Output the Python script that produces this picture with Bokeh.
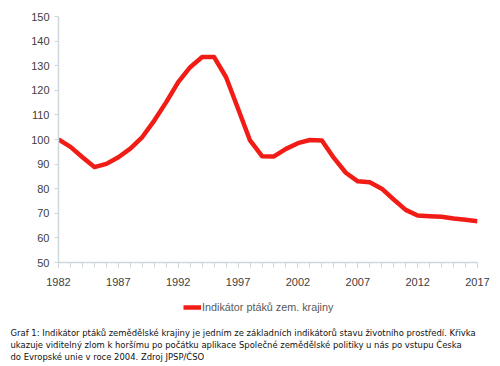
from bokeh.plotting import figure
from bokeh.layouts import column
from bokeh.models import (ColumnDataSource, Range1d, FixedTicker, Legend, LegendItem)
from bokeh.core.properties import value
from bokeh.embed import file_html
from bokeh.resources import INLINE

years = list(range(1982, 2018))
values = [100.0, 97.0, 92.8, 88.8, 90.1, 92.8, 96.3, 101.0, 107.7, 115.2,
          123.3, 129.4, 133.5, 133.5, 125.3, 112.5, 99.6, 93.2, 93.1, 96.2,
          98.5, 99.8, 99.6, 92.5, 86.5, 83.0, 82.6, 80.0, 75.6, 71.4,
          69.1, 68.8, 68.6, 67.9, 67.4, 66.8]
x_tick_labels = [1982, 1987, 1992, 1997, 2002, 2007, 2012, 2017]
y_ticks = [50, 60, 70, 80, 90, 100, 110, 120, 130, 140, 150]
series_name = "Indikátor ptáků zem. krajiny"
caption_lines = [
    "Graf 1: Indikátor ptáků zemědělské krajiny je jedním ze základních indikátorů stavu životního prostředí. Křivka",
    "ukazuje viditelný zlom k horšímu po počátku aplikace Společné zemědělské politiky u nás po vstupu Česka",
    "do Evropské unie v roce 2004. Zdroj JPSP/ČSO",
]

LINE_COLOR = "#f21c16"
axis_col = "#cdd6da"
lab_col = "#404040"
font = "Liberation Sans"

src = ColumnDataSource(dict(x=years, y=values))

p = figure(width=500, height=290, output_backend="svg", toolbar_location=None,
           x_range=Range1d(1982, 2017), y_range=Range1d(50, 150),
           min_border_left=58, min_border_right=23, min_border_top=16, min_border_bottom=28)
p.frame_align = False
p.outline_line_color = None
p.xgrid.grid_line_color = None
p.ygrid.grid_line_color = None

p.line("x", "y", source=src, line_color=LINE_COLOR, line_width=4.5, line_join="round")

p.xaxis.ticker = FixedTicker(ticks=x_tick_labels, minor_ticks=years)
p.yaxis.ticker = FixedTicker(ticks=y_ticks, minor_ticks=[])
for ax in (p.xaxis[0], p.yaxis[0]):
    ax.axis_line_color = axis_col
    ax.axis_line_width = 1.5
    ax.major_tick_line_color = axis_col
    ax.minor_tick_line_color = axis_col
    ax.major_tick_in = 0
    ax.minor_tick_in = 0
    ax.major_label_text_font = font
    ax.major_label_text_font_size = "11px"
    ax.major_label_text_color = lab_col
p.xaxis.major_tick_out = 5
p.xaxis.minor_tick_out = 5
p.xaxis.major_label_standoff = 10
p.yaxis.major_tick_out = 4
p.yaxis.minor_tick_out = 0
p.yaxis.major_label_standoff = 5

# Second panel: legend and caption
H2 = 76
q = figure(width=500, height=H2, output_backend="svg", toolbar_location=None,
           x_range=Range1d(0, 500), y_range=Range1d(H2, 0),
           min_border_left=0, min_border_right=0, min_border_top=0, min_border_bottom=0)
q.frame_align = False
q.axis.visible = False
q.grid.visible = False
q.outline_line_color = None
# legend swatch renderer: its points lie outside the visible range
dummy = q.line(x=[-20, -10], y=[-20, -20], line_color=LINE_COLOR, line_width=4.5)

legend = Legend(items=[LegendItem(label=series_name, renderers=[dummy])],
                location=(183, H2 - 24), padding=0, margin=0, spacing=0,
                glyph_width=18, glyph_height=14, label_standoff=1,
                label_text_font=font, label_text_font_size="10.8px",
                label_text_color="#595959", border_line_color=None,
                background_fill_alpha=0)
q.add_layout(legend)

cap = ColumnDataSource(dict(x=[10, 10, 10], y=[42, 54, 66], t=caption_lines))
q.text(x="x", y="y", text="t", source=cap,
       text_font=value("Liberation Sans Narrow, Noto Sans ExtraCondensed, Noto Sans Condensed, DejaVu Sans Condensed"),
       text_font_size="9.4px", text_color="#111111", text_baseline="alphabetic")

layout = column(p, q, spacing=0)
open("out.html", "w").write(file_html(layout, INLINE))
